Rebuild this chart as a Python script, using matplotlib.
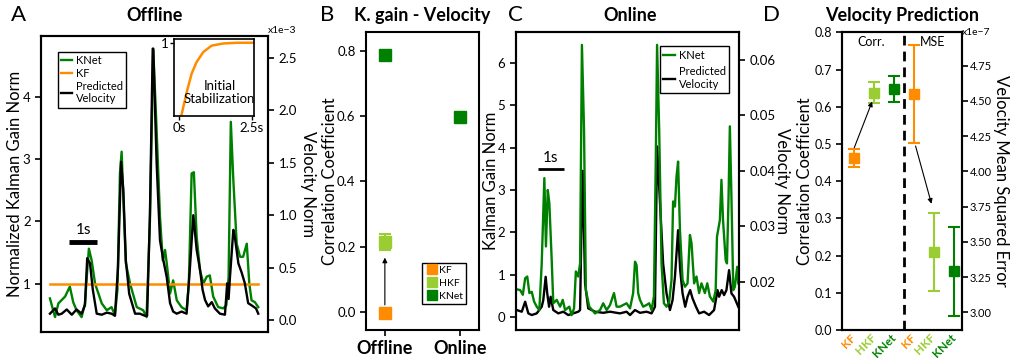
import numpy as np
import matplotlib.pyplot as plt
from matplotlib.lines import Line2D

plt.rcParams['font.family'] = ['Lato', 'DejaVu Sans']
plt.rcParams['axes.linewidth'] = 1.5

C_KNET = '#008000'
C_KF = '#ff8c00'
C_HKF = '#9acd32'

# ---------------- A : offline traces (t in s) ----------------
t_knet_off = [0.00, 0.18, 0.30, 0.54, 0.71, 0.83, 0.95, 1.13, 1.25, 1.33, 1.39, 1.49, 1.61, 1.73, 1.85,
              2.03, 2.20, 2.32, 2.41, 2.50, 2.56, 2.62, 2.71, 2.86, 3.10, 3.33, 3.45, 3.57, 3.69, 3.81,
              3.93, 4.03, 4.11, 4.17, 4.29, 4.40, 4.53, 4.70, 4.88, 4.96, 5.06, 5.14, 5.24, 5.36, 5.48,
              5.60, 5.71, 5.83, 6.01, 6.19, 6.30, 6.38, 6.46, 6.55, 6.67, 6.79, 6.90, 7.03, 7.12, 7.20,
              7.32, 7.44]
knet_off = [0.76, 0.46, 0.68, 0.79, 0.95, 0.70, 0.57, 0.46, 0.68, 1.20, 1.56, 1.37, 1.00, 0.84, 0.68,
            0.57, 0.62, 0.49, 0.90, 2.77, 3.12, 2.39, 1.33, 1.00, 0.62, 0.57, 0.46, 2.00, 4.76, 3.46,
            2.07, 1.37, 1.54, 1.33, 0.84, 1.05, 0.73, 0.62, 0.57, 1.00, 2.77, 2.79, 1.75, 1.21, 1.00,
            1.11, 1.13, 0.79, 0.62, 0.60, 0.65, 1.10, 3.60, 2.66, 1.64, 1.43, 1.43, 1.64, 1.00, 0.73,
            0.70, 0.62]
kf_off_t = [0.00, 7.44]
kf_off = [1.0, 1.0]
t_vel_off = [0.00, 0.18, 0.30, 0.42, 0.60, 0.78, 0.95, 1.13, 1.25, 1.33, 1.43, 1.53, 1.67, 1.85, 2.03,
             2.20, 2.32, 2.43, 2.54, 2.62, 2.71, 2.83, 3.04, 3.21, 3.39, 3.47, 3.57, 3.67, 3.69, 3.81,
             3.93, 4.05, 4.17, 4.29, 4.40, 4.53, 4.70, 4.88, 5.00, 5.12, 5.24, 5.36, 5.45, 5.54, 5.65,
             5.78, 5.89, 6.07, 6.25, 6.33, 6.38, 6.43, 6.55, 6.61, 6.73, 6.85, 6.96, 7.08, 7.20, 7.36,
             7.44]
vel_off = [0.06, 0.11, 0.05, 0.06, 0.10, 0.05, 0.10, 0.06, 0.14, 0.59, 0.54, 0.29, 0.06, 0.05, 0.07,
           0.06, 0.04, 0.50, 1.51, 1.24, 0.57, 0.25, 0.06, 0.06, 0.04, 0.04, 1.00, 2.59, 2.59, 1.50,
           0.76, 0.57, 0.41, 0.16, 0.08, 0.06, 0.08, 0.06, 0.50, 1.00, 0.67, 0.48, 0.29, 0.19, 0.13,
           0.17, 0.11, 0.06, 0.05, 0.35, 0.20, 0.41, 0.86, 0.78, 0.54, 0.45, 0.35, 0.16, 0.14, 0.11,
           0.06]  # x1e-3

# inset: initial stabilization of KF gain
t_stab = [0.08, 0.26, 0.43, 0.60, 0.83, 1.12, 1.52, 2.00, 2.56]
stab = [0.0, 0.32, 0.58, 0.74, 0.88, 0.97, 1.0, 1.01, 1.01]

# ---------------- B : correlation K gain - velocity ----------------
b_groups = ['Offline', 'Online']
b_kf = [-0.005]
b_kf_err = [0.01]
b_hkf = [0.213]
b_hkf_err = [0.024]
b_knet = [0.788, 0.597]
b_knet_err = [0.01, 0.01]

# ---------------- C : online traces ----------------
t_knet_on = [0.00, 0.13, 0.23, 0.32, 0.40, 0.48, 0.57, 0.66, 0.76, 0.86, 0.95, 1.05, 1.11, 1.18, 1.24,
             1.33, 1.39, 1.52, 1.65, 1.75, 1.84, 2.00, 2.09, 2.18, 2.25, 2.34, 2.41, 2.48, 2.56, 2.63,
             2.76, 2.98, 3.17, 3.29, 3.42, 3.55, 3.70, 3.80, 3.93, 4.05, 4.18, 4.31, 4.43, 4.50, 4.56,
             4.62, 4.69, 4.81, 4.94, 5.04, 5.13, 5.22, 5.29, 5.34, 5.42, 5.51, 5.60, 5.70, 5.80, 5.89,
             5.95, 6.02, 6.08, 6.14, 6.21, 6.31, 6.40, 6.50, 6.59, 6.65, 6.75, 6.84, 6.94, 7.03, 7.16,
             7.25, 7.35, 7.48, 7.57, 7.62, 7.73, 7.79, 7.85, 7.95, 8.00, 8.06, 8.11, 8.17, 8.24, 8.30,
             8.39, 8.43]
knet_on = [0.66, 0.64, 0.53, 0.92, 0.96, 0.57, 0.60, 0.37, 0.25, 0.17, 1.27, 3.28, 1.67, 3.00, 2.69,
           1.35, 0.33, 0.41, 0.25, 0.41, 0.17, 0.25, 0.05, 0.21, 1.08, 0.96, 1.27, 6.42, 4.42, 0.64,
           0.25, 0.09, 0.17, 0.33, 0.17, 0.29, 0.57, 0.25, 0.25, 0.29, 0.33, 0.21, 0.57, 1.31, 1.23,
           0.57, 0.41, 0.25, 0.29, 0.33, 0.17, 0.49, 3.63, 6.42, 4.42, 1.27, 0.33, 0.25, 0.37, 0.88,
           2.73, 2.61, 3.32, 3.67, 2.06, 0.88, 0.72, 0.80, 1.94, 1.75, 0.80, 0.96, 0.57, 0.80, 0.57,
           0.80, 0.49, 0.37, 0.64, 1.90, 2.29, 3.24, 2.29, 1.35, 1.27, 2.84, 4.50, 2.84, 0.64, 0.72,
           1.19, 0.80]
t_vel_on = [0.00, 0.19, 0.32, 0.44, 0.57, 0.76, 0.95, 1.01, 1.10, 1.16, 1.23, 1.29, 1.39, 1.58, 1.77,
            1.96, 2.15, 2.34, 2.41, 2.46, 2.51, 2.60, 2.72, 2.98, 3.29, 3.55, 3.80, 3.93, 4.18, 4.31,
            4.50, 4.69, 4.94, 5.13, 5.26, 5.34, 5.44, 5.57, 5.70, 5.83, 5.93, 6.02, 6.14, 6.22, 6.31,
            6.41, 6.50, 6.60, 6.69, 6.82, 6.94, 7.13, 7.32, 7.51, 7.64, 7.70, 7.80, 7.89, 7.98, 8.08,
            8.17, 8.27, 8.43]
vel_on = [0.0149, 0.0146, 0.0164, 0.0143, 0.0140, 0.0143, 0.0155, 0.0167, 0.0209, 0.0179, 0.0155,
          0.0173, 0.0149, 0.0143, 0.0146, 0.0140, 0.0143, 0.0146, 0.0149, 0.0293, 0.0400, 0.0197,
          0.0152, 0.0146, 0.0144, 0.0146, 0.0144, 0.0143, 0.0146, 0.0140, 0.0149, 0.0144, 0.0146,
          0.0143, 0.0155, 0.0444, 0.0353, 0.0233, 0.0179, 0.0149, 0.0167, 0.0209, 0.0293, 0.0221,
          0.0179, 0.0155, 0.0173, 0.0185, 0.0170, 0.0155, 0.0143, 0.0146, 0.0140, 0.0149, 0.0185,
          0.0173, 0.0185, 0.0176, 0.0185, 0.0221, 0.0179, 0.0173, 0.0155]

# ---------------- D : velocity prediction ----------------
d_labels = ['KF', 'HKF', 'KNet']
d_colors = [C_KF, C_HKF, C_KNET]
d_corr = [0.462, 0.638, 0.648]
d_corr_err = [0.024, 0.029, 0.035]
d_mse = [4.547, 3.429, 3.290]  # x1e-7
d_mse_err = [0.347, 0.275, 0.315]

W, H = 1010, 358
fig = plt.figure(figsize=(W / 100, H / 100), dpi=100)

LAB = 12     # axis label size
TICK = 9.5

def style(ax):
    ax.tick_params(direction='out', length=4, width=1.2, labelsize=TICK)

def ylab(x_px, ax, text, rot):
    # axis labels put by hand (centred on the axes height)
    b = ax.get_position()
    fig.text(x_px / W, b.y0 + b.height / 2, text, fontsize=LAB, rotation=rot, ha='center', va='center')

# ================= panel A =================
axA = fig.add_axes([0.0406, 0.0726, 0.2248, 0.8268])
axA2 = axA.twinx()
axA.plot(t_knet_off, knet_off, color=C_KNET, lw=1.7)
axA.plot(kf_off_t, kf_off, color=C_KF, lw=1.8)
axA2.plot(t_vel_off, vel_off, color='k', lw=1.7)
axA.set_xlim(-0.32, 7.79)
axA.set_ylim(0.22, 4.98)
axA2.set_ylim(-0.115, 2.71)
axA.set_yticks([1, 2, 3, 4])
axA2.set_yticks([0.0, 0.5, 1.0, 1.5, 2.0, 2.5])
axA2.set_yticklabels(['0.0', '0.5', '1.0', '1.5', '2.0', '2.5'])
axA.set_xticks([])
style(axA); style(axA2)
ylab(15, axA, 'Normalized Kalman Gain Norm', 90)
ylab(308, axA, 'Velocity Norm', 270)
axA2.text(1.0, 1.005, 'x1e\u22123', transform=axA2.transAxes, fontsize=7.5, ha='left', va='bottom')
axA2.plot([0.69, 1.69], [0.74, 0.74], color='k', lw=3.5, solid_capstyle='butt')
axA2.text(1.19, 0.79, '1s', fontsize=11, ha='center', va='bottom')
handles = [Line2D([], [], color=C_KNET, lw=1.7), Line2D([], [], color=C_KF, lw=1.7),
           Line2D([], [], color='k', lw=1.7)]
legA = axA2.legend(handles, ['KNet', 'KF', 'Predicted\nVelocity'], loc='upper left',
                   bbox_to_anchor=(0.05, 0.965), fontsize=8, handlelength=1.0, handletextpad=0.3,
                   labelspacing=0.15, borderpad=0.3, fancybox=False, edgecolor='k', framealpha=1)
legA.get_frame().set_linewidth(1.0)

axIn = fig.add_axes([0.1723, 0.6760, 0.0792, 0.2151])
axIn.plot(t_stab, stab, color=C_KF, lw=1.8)
axIn.set_xlim(-0.18, 2.58)
axIn.set_ylim(-0.018, 1.063)
axIn.set_xticks([0, 2.5])
axIn.set_xticklabels(['0s', '2.5s'])
axIn.set_yticks([1])
axIn.tick_params(direction='out', length=3, width=1.0, labelsize=TICK, pad=1)
for s in axIn.spines.values():
    s.set_linewidth(1.2)
axIn.text(0.57, 0.30, 'Initial\nStabilization', transform=axIn.transAxes, fontsize=9.5,
          ha='center', va='center', linespacing=1.1)

# ================= panel B =================
axB = fig.add_axes([0.3624, 0.0782, 0.1119, 0.8324])
axB.errorbar([0], b_kf, yerr=b_kf_err, fmt='s', color=C_KF, ms=8, capsize=4, elinewidth=1.5, capthick=1.5)
axB.errorbar([0], b_hkf, yerr=b_hkf_err, fmt='s', color=C_HKF, ms=8, capsize=4, elinewidth=1.5, capthick=1.5)
axB.errorbar([0, 1], b_knet, yerr=b_knet_err, fmt='s', color=C_KNET, ms=8, capsize=4, elinewidth=1.5, capthick=1.5)
axB.annotate('', xy=(0, b_hkf[0] - 0.047), xytext=(0, b_kf[0] + 0.026),
             arrowprops=dict(arrowstyle='-|>', color='k', lw=0.8, mutation_scale=7, shrinkA=0, shrinkB=0))
axB.set_xlim(-0.25, 1.25)
axB.set_ylim(-0.056, 0.858)
axB.set_yticks([0.0, 0.2, 0.4, 0.6, 0.8])
axB.set_xticks([0, 1])
axB.set_xticklabels(b_groups)
style(axB)
axB.tick_params(axis='x', labelsize=13)
for lab in axB.get_xticklabels():
    lab.set_fontweight('bold')
ylab(330, axB, 'Correlation Coefficient', 90)
hB = [Line2D([], [], marker='s', ls='none', color=c, ms=7) for c in d_colors]
legB = axB.legend(hB, d_labels, loc='lower right', bbox_to_anchor=(0.93, 0.07), fontsize=7.5,
                  handletextpad=0.1, labelspacing=0.35, borderpad=0.3, handlelength=1.2,
                  fancybox=False, edgecolor='k', framealpha=1)
legB.get_frame().set_linewidth(1.0)

# ================= panel C =================
axC = fig.add_axes([0.5106, 0.0782, 0.2214, 0.8332])
axC2 = axC.twinx()
axC.set_zorder(axC2.get_zorder() + 1)
axC.patch.set_visible(False)
axC.plot(t_knet_on, knet_on, color=C_KNET, lw=1.7)
axC2.plot(t_vel_on, vel_on, color='k', lw=1.7)
axC.set_xlim(-0.04, 8.47)
axC.set_ylim(-0.30, 6.73)
axC2.set_ylim(0.0113, 0.0651)
axC.set_yticks([0, 1, 2, 3, 4, 5, 6])
axC2.set_yticks([0.02, 0.03, 0.04, 0.05, 0.06])
axC.set_xticks([])
style(axC); style(axC2)
ylab(491, axC, 'Kalman Gain Norm', 90)
ylab(782, axC, 'Velocity Norm', 270)
axC.plot([0.80, 1.80], [3.50, 3.50], color='k', lw=2, solid_capstyle='butt')
axC.text(1.30, 3.60, '1s', fontsize=11, ha='center', va='bottom')
hC = [Line2D([], [], color=C_KNET, lw=1.7), Line2D([], [], color='k', lw=1.7)]
legC = axC.legend(hC, ['KNet', 'Predicted\nVelocity'], loc='upper right', bbox_to_anchor=(0.98, 0.97),
                  fontsize=8, handlelength=1.0, handletextpad=0.4, labelspacing=0.5, borderpad=0.3,
                  fancybox=False, edgecolor='k', framealpha=1)
legC.get_frame().set_linewidth(1.0)

# ================= panel D =================
axD = fig.add_axes([0.8340, 0.0782, 0.1182, 0.8316])
axD2 = axD.twinx()
for i in range(3):
    axD.errorbar([i], [d_corr[i]], yerr=[d_corr_err[i]], fmt='s', color=d_colors[i], ms=7.5,
                 capsize=4, elinewidth=1.5, capthick=1.5)
    axD2.errorbar([i + 3], [d_mse[i]], yerr=[d_mse_err[i]], fmt='s', color=d_colors[i], ms=7.5,
                  capsize=4, elinewidth=1.5, capthick=1.5)
axD.axvline(2.5, color='k', lw=2, ls=(0, (3.5, 2.2)))
axD.set_xlim(-0.6, 5.4)
axD.set_ylim(0, 0.8)
axD2.set_ylim(2.874, 4.987)
axD.set_yticks(np.arange(0, 0.81, 0.1))
axD2.set_yticks([3.00, 3.25, 3.50, 3.75, 4.00, 4.25, 4.50, 4.75])
axD2.set_yticklabels(['3.00', '3.25', '3.50', '3.75', '4.00', '4.25', '4.50', '4.75'])
axD.set_xticks(range(6))
axD.set_xticklabels(d_labels * 2, rotation=45, ha='right', va='center', rotation_mode='anchor')
style(axD); style(axD2)
axD.tick_params(axis='y', labelsize=9)
axD2.tick_params(labelsize=8, pad=2)
axD.tick_params(axis='x', length=0, labelsize=8.5, pad=4)
for lab, c in zip(axD.get_xticklabels(), d_colors * 2):
    lab.set_color(c)
    lab.set_fontweight('bold')
axD.annotate('', xy=(0.9, 0.614), xytext=(0.0, 0.49),
             arrowprops=dict(arrowstyle='-|>', color='k', lw=0.8, mutation_scale=7, shrinkA=0, shrinkB=0))
axD2.annotate('', xy=(3.88, 3.77), xytext=(3.08, 4.18),
              arrowprops=dict(arrowstyle='-|>', color='k', lw=0.8, mutation_scale=7, shrinkA=0, shrinkB=0))
axD.text(0.85, 0.775, 'Corr.', fontsize=9, ha='center', va='center')
axD.text(3.95, 0.775, 'MSE', fontsize=9, ha='center', va='center')
ylab(805, axD, 'Correlation Coefficient', 90)
ylab(1001, axD, 'Velocity Mean Squared Error', 270)
axD2.text(1.0, 1.0, 'x1e\u22127', transform=axD2.transAxes, fontsize=7.5, ha='left', va='center')

# titles and panel letters
fig.text(0.153, 0.958, 'Offline', fontsize=13, fontweight='bold', ha='center', va='center')
fig.text(0.418, 0.958, 'K. gain - Velocity', fontsize=13, fontweight='bold', ha='center', va='center')
fig.text(0.624, 0.958, 'Online', fontsize=13, fontweight='bold', ha='center', va='center')
fig.text(0.893, 0.958, 'Velocity Prediction', fontsize=13, fontweight='bold', ha='center', va='center')
for x, letter in [(0.018, 'A'), (0.324, 'B'), (0.510, 'C'), (0.764, 'D')]:
    fig.text(x, 0.958, letter, fontsize=16, ha='center', va='center')

fig.savefig('out.png', dpi=100)
